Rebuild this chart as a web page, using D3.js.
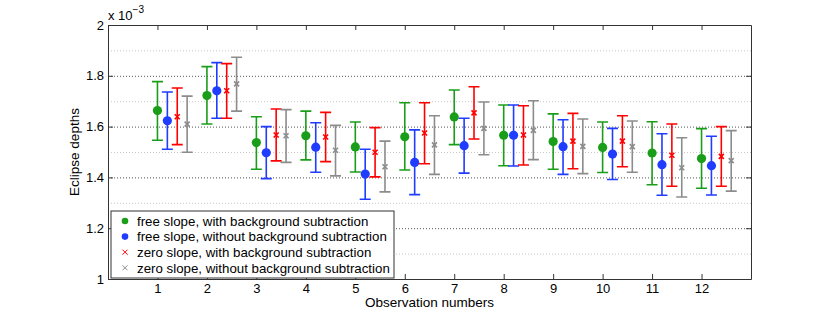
<!DOCTYPE html>
<html>
<head>
<meta charset="utf-8">
<script src="https://cdn.jsdelivr.net/npm/d3@7"></script>
<style>
  body { margin: 0; background: #fff; }
  svg { font-family: "Liberation Sans", Arial, sans-serif; }
</style>
</head>
<body>
<div id="app"></div>
<script>
// observation numbers
const obs = [1, 2, 3, 4, 5, 6, 7, 8, 9, 10, 11, 12];

// eclipse depths (x 1e-3)
const greenMid = [1.663, 1.722, 1.537, 1.564, 1.520, 1.560, 1.638, 1.566, 1.541, 1.518, 1.496, 1.474];
const greenLo  = [1.546, 1.610, 1.432, 1.469, 1.421, 1.429, 1.529, 1.446, 1.432, 1.419, 1.371, 1.357];
const greenHi  = [1.777, 1.836, 1.639, 1.661, 1.618, 1.694, 1.744, 1.685, 1.650, 1.618, 1.619, 1.592];

const blueMid = [1.623, 1.741, 1.497, 1.519, 1.413, 1.459, 1.525, 1.566, 1.521, 1.492, 1.450, 1.446];
const blueLo  = [1.511, 1.633, 1.395, 1.420, 1.314, 1.332, 1.417, 1.445, 1.412, 1.392, 1.330, 1.331];
const blueHi  = [1.736, 1.852, 1.600, 1.615, 1.511, 1.587, 1.633, 1.685, 1.627, 1.593, 1.572, 1.562];

const redMid = [1.639, 1.741, 1.567, 1.559, 1.499, 1.575, 1.654, 1.567, 1.543, 1.543, 1.487, 1.483];
const redLo  = [1.529, 1.633, 1.465, 1.462, 1.402, 1.454, 1.551, 1.449, 1.434, 1.442, 1.365, 1.365];
const redHi  = [1.752, 1.848, 1.669, 1.656, 1.596, 1.694, 1.757, 1.682, 1.652, 1.643, 1.610, 1.600];

const grayMid = [1.610, 1.768, 1.564, 1.507, 1.442, 1.528, 1.593, 1.585, 1.522, 1.521, 1.438, 1.466];
const grayLo  = [1.499, 1.661, 1.459, 1.406, 1.343, 1.412, 1.489, 1.470, 1.415, 1.420, 1.323, 1.346];
const grayHi  = [1.720, 1.873, 1.667, 1.605, 1.543, 1.643, 1.697, 1.702, 1.630, 1.622, 1.556, 1.584];

const seriesNames = [
  "free slope, with background subtraction",
  "free slope, without background subtraction",
  "zero slope, with background subtraction",
  "zero slope, without background subtraction"
];
const yTicks = [1, 1.2, 1.4, 1.6, 1.8, 2];
const yMinor = [1.1, 1.3, 1.5, 1.7, 1.9];

const series = [
  {name: seriesNames[0], mid: greenMid, lo: greenLo, hi: greenHi, color: "#1a9e1a", marker: "dot", shift: 0},
  {name: seriesNames[1], mid: blueMid, lo: blueLo, hi: blueHi, color: "#1f3cff", marker: "dot", shift: 0.2},
  {name: seriesNames[2], mid: redMid, lo: redLo, hi: redHi, color: "#ff0000", marker: "x", shift: 0.4},
  {name: seriesNames[3], mid: grayMid, lo: grayLo, hi: grayHi, color: "#8c8c8c", marker: "x", shift: 0.6}
];

const width = 830, height = 316;
const margin = {top: 25, right: 79, bottom: 37, left: 108};

const x = d3.scaleLinear().domain([0, 13]).range([margin.left, width - margin.right]);
const y = d3.scaleLinear().domain([1, 2]).range([height - margin.bottom, margin.top]);

const svg = d3.select("#app").append("svg")
    .attr("width", width)
    .attr("height", height)
    .attr("viewBox", [0, 0, width, height]);

// grid
svg.append("g")
  .selectAll("line")
  .data(yMinor)
  .join("line")
    .attr("x1", x(0)).attr("x2", x(13))
    .attr("y1", d => y(d) + 0.5).attr("y2", d => y(d) + 0.5)
    .attr("stroke", "#c8c8c8")
    .attr("stroke-dasharray", "1,2");

svg.append("g")
  .selectAll("line")
  .data(yTicks.filter(d => d > 1 && d < 2))
  .join("line")
    .attr("x1", x(0)).attr("x2", x(13))
    .attr("y1", d => y(d) + 0.5).attr("y2", d => y(d) + 0.5)
    .attr("stroke", "#555")
    .attr("stroke-dasharray", "1,2");

// axes
const axisColor = "#333";
const fmt = d => d3.format("")(+d.toFixed(1));

const gx = svg.append("g")
    .attr("transform", `translate(0,${y(1)})`)
    .call(d3.axisBottom(x).tickValues(obs).tickSizeInner(-5).tickSizeOuter(0).tickPadding(5));
const gxTop = svg.append("g")
    .attr("transform", `translate(0,${y(2)})`)
    .call(d3.axisTop(x).tickValues(obs).tickSizeInner(-5).tickSizeOuter(0).tickFormat(""));
const gy = svg.append("g")
    .attr("transform", `translate(${x(0)},0)`)
    .call(d3.axisLeft(y).tickValues(yTicks).tickFormat(fmt).tickSizeInner(-5).tickSizeOuter(0).tickPadding(4));
const gyRight = svg.append("g")
    .attr("transform", `translate(${x(13)},0)`)
    .call(d3.axisRight(y).tickValues(yTicks).tickSizeInner(-5).tickSizeOuter(0).tickFormat(""));

for (const g of [gx, gxTop, gy, gyRight]) {
  g.select(".domain").attr("stroke", axisColor);
  g.selectAll(".tick line").attr("stroke", axisColor);
  g.selectAll("text").attr("font-size", 13).attr("fill", "#000")
    .attr("font-family", "Liberation Sans, Arial, sans-serif");
}

// exponent label
const expo = svg.append("text")
    .attr("x", x(0))
    .attr("y", 20)
    .attr("font-size", 13);
expo.append("tspan").text("x 10");
expo.append("tspan").attr("dy", -7).attr("font-size", 10).text("−3");

// axis titles
svg.append("text")
    .attr("transform", `translate(79,${y(1.5)}) rotate(-90)`)
    .attr("text-anchor", "middle")
    .attr("font-size", 13.5)
    .text("Eclipse depths");
svg.append("text")
    .attr("x", x(6.5))
    .attr("y", 307)
    .attr("text-anchor", "middle")
    .attr("font-size", 13.5)
    .text("Observation numbers");

// error bars
const cap = 5.5;
for (const s of series) {
  const g = svg.append("g").attr("stroke", s.color).attr("fill", s.color);
  const pts = obs.map((o, i) => ({px: x(o + s.shift), mid: s.mid[i], lo: s.lo[i], hi: s.hi[i]}));

  g.selectAll(".bar").data(pts).join("path")
      .attr("fill", "none")
      .attr("stroke-width", 1.6)
      .attr("d", d => `M${d.px - cap},${y(d.hi)}H${d.px + cap}M${d.px},${y(d.hi)}V${y(d.lo)}M${d.px - cap},${y(d.lo)}H${d.px + cap}`);

  if (s.marker === "dot") {
    g.selectAll(".mk").data(pts).join("circle")
        .attr("stroke", "none")
        .attr("cx", d => d.px).attr("cy", d => y(d.mid)).attr("r", 4.6);
  } else {
    g.selectAll(".mk").data(pts).join("path")
        .attr("fill", "none")
        .attr("stroke-width", 1.6)
        .attr("d", d => { const c = y(d.mid), r = 2.5; return `M${d.px - r},${c - r}L${d.px + r},${c + r}M${d.px - r},${c + r}L${d.px + r},${c - r}`; });
  }
}

// legend
const lg = svg.append("g").attr("transform", "translate(111,211)");
lg.append("rect")
    .attr("width", 283).attr("height", 67)
    .attr("fill", "#fff").attr("stroke", "#333");
const row = lg.selectAll(".row").data(series).join("g")
    .attr("transform", (d, i) => `translate(0,${10 + i * 15.6})`);
row.each(function(s) {
  const r = d3.select(this);
  if (s.marker === "dot") {
    r.append("circle").attr("cx", 14).attr("cy", 0).attr("r", 3.3).attr("fill", s.color);
  } else {
    r.append("path").attr("stroke", s.color).attr("fill", "none")
        .attr("d", "M11.5,-2.5L16.5,2.5M11.5,2.5L16.5,-2.5");
  }
  r.append("text").attr("x", 26).attr("y", 4.8).attr("font-size", 13.3).text(s.name);
});
</script>
</body>
</html>
